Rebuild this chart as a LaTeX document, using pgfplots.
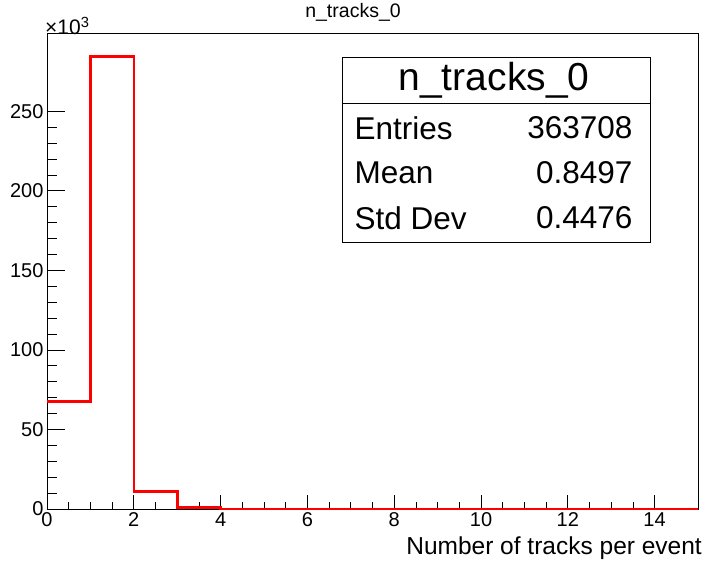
\documentclass[border=0pt]{standalone}
\usepackage{pgfplots}
\pgfplotsset{compat=1.18}
\usepackage{fontspec}
\setmainfont{Liberation Sans}
\begin{document}
\begin{tikzpicture}[x=1pt,y=1pt]
\useasboundingbox (0,0) rectangle (703,563);
\begin{axis}[
  at={(47pt,54pt)}, anchor=south west,
  scale only axis, width=651pt, height=476pt,
  xmin=0, xmax=15, ymin=0, ymax=299.25,
  xtick={0,2,...,14}, ytick={0,50,...,250},
  minor x tick num=3, minor y tick num=4,
  tick align=inside, xtick pos=lower, ytick pos=left,
  major tick length=18pt, minor tick length=9.5pt,
  x tick style={/pgfplots/major tick length=14pt, /pgfplots/minor tick length=7.5pt},
  axis line style={line width=0.8pt},
  every tick/.style={black, line width=0.8pt},
  ticklabel style={font=\fontsize{20}{20}\selectfont},
  /pgf/number format/assume math mode=true,
  scaled y ticks=false,
  clip=false,
]
\addplot[const plot, red, line width=2.6pt] coordinates {
(0,67.4) (1,284.3) (2,11.0) (3,0.85) (4,0.12) (5,0.03) (6,0.01) (7,0) (8,0) (9,0) (10,0) (11,0) (12,0) (13,0) (14,0) (15,0)};
\end{axis}
\node[font=\fontsize{19.5}{19.5}\selectfont] at (353,551) {n\_tracks\_0};
\node[font=\fontsize{21}{21}\selectfont, anchor=west, inner sep=0pt] at (45,537) {×10\textsuperscript{3}};
\node[font=\fontsize{24.5}{24.5}\selectfont, anchor=east, inner sep=0pt] at (702,15) {Number of tracks per event};
\draw[fill=white, line width=0.8pt] (342,321) rectangle (650,506);
\draw[line width=0.8pt] (342,460) -- (650,460);
\node[font=\fontsize{39}{39}\selectfont] at (494,483) {n\_tracks\_0};
\node[font=\fontsize{31.5}{31.5}\selectfont, anchor=west] at (351,435) {Entries};
\node[font=\fontsize{31.5}{31.5}\selectfont, anchor=east] at (636,435) {363708};
\node[font=\fontsize{31.5}{31.5}\selectfont, anchor=west] at (351,390) {Mean};
\node[font=\fontsize{31.5}{31.5}\selectfont, anchor=east] at (636,390) {0.8497};
\node[font=\fontsize{31.5}{31.5}\selectfont, anchor=west] at (351,345) {Std Dev};
\node[font=\fontsize{31.5}{31.5}\selectfont, anchor=east] at (636,345) {0.4476};
\end{tikzpicture}
\end{document}
